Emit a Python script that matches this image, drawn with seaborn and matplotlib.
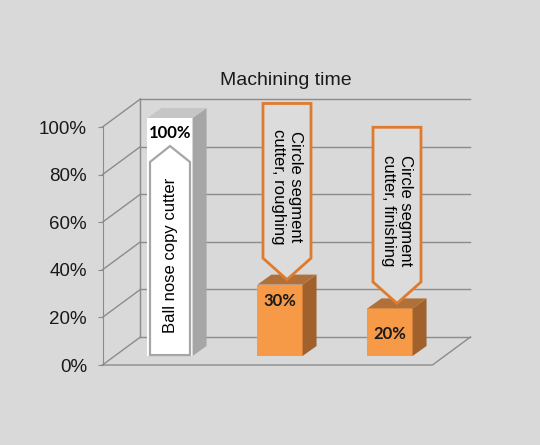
import matplotlib
matplotlib.use("Agg")
import matplotlib.pyplot as plt
import matplotlib.patches as mpatches
import seaborn as sns
import pandas as pd

# data
tools = ["Ball nose copy cutter", "Circle segment\ncutter, roughing", "Circle segment\ncutter, finishing"]
times = [100, 30, 20]
value_labels = ["100%", "30%", "20%"]
yticks = [0, 20, 40, 60, 80, 100]
title = "Machining time"

# colours
bg = "#d9d9d9"
grid_col = "#8c8c8c"
front_cols = ["#ffffff", "#f79a48", "#f79a48"]
top_cols = ["#c6c6c6", "#b0703a", "#b0703a"]
side_cols = ["#a6a6a6", "#a1612d", "#a1612d"]
arrow_edge = ["#a6a6a6", "#e07a2c", "#e07a2c"]

# fake 3d geometry (pixel offsets turned into data units)
PX_X = 110.0   # pixels per category
PX_Y = 2.38    # pixels per percent
BX, BY = 38 / PX_X, 28 / PX_Y      # back wall offset
FX, FY = 12 / PX_X, 9 / PX_Y       # bar front face offset
DX, DY = 14 / PX_X, 10 / PX_Y      # bar depth
XMIN, XMAX = -0.505, 2.495

plt.rcParams["font.family"] = ["Liberation Sans", "DejaVu Sans"]
fig = plt.figure(figsize=(5.4, 4.45), dpi=100, facecolor=bg)
ax = fig.add_axes([103 / 540, 80 / 445, 330 / 540, 238 / 445])
ax.set_facecolor("none")
ax.set_xlim(XMIN, XMAX)
ax.set_ylim(0, 100)

# walls and grid
for t in yticks:
    ax.plot([XMIN + BX, XMAX + BX], [t + BY, t + BY], color=grid_col, lw=1, zorder=1, clip_on=False)
    ax.plot([XMIN, XMIN + BX], [t, t + BY], color=grid_col, lw=1, zorder=1, clip_on=False)
ax.plot([XMIN + BX, XMIN + BX], [BY, 100 + BY], color=grid_col, lw=1, zorder=1, clip_on=False)
ax.plot([XMIN, XMAX, XMAX + BX], [0, 0, BY], color=grid_col, lw=1, zorder=1, clip_on=False)

df = pd.DataFrame({"tool": tools, "time": times})
sns.barplot(data=df, x="tool", y="time", hue="tool", palette=front_cols,
            width=0.41, legend=False, ax=ax, saturation=1, zorder=3)

for i, p in enumerate(ax.patches):
    p.set_x(p.get_x() + FX)
    p.set_y(FY)
    p.set_clip_on(False)
    p.set_edgecolor("none")
    xl = p.get_x()
    xr = xl + p.get_width()
    y0 = FY
    y1 = FY + p.get_height()
    side = mpatches.Polygon([(xr, y0), (xr + DX, y0 + DY), (xr + DX, y1 + DY), (xr, y1)],
                            closed=True, fc=side_cols[i], ec="none", zorder=3, clip_on=False)
    top = mpatches.Polygon([(xl, y1), (xr, y1), (xr + DX, y1 + DY), (xl + DX, y1 + DY)],
                           closed=True, fc=top_cols[i], ec="none", zorder=3, clip_on=False)
    ax.add_patch(side)
    ax.add_patch(top)

    cx = xl + p.get_width() / 2
    if i == 0:
        # up arrow inside the tall bar
        hw = 20 / PX_X
        pts = [(cx - hw, y0 + 0.4), (cx + hw, y0 + 0.4), (cx + hw, 85.3),
               (cx, 92), (cx - hw, 85.3)]
        ax.add_patch(mpatches.Polygon(pts, closed=True, fc="white", ec=arrow_edge[i],
                                      lw=1.6, zorder=4, clip_on=False))
        ax.text(cx, 46, tools[i], rotation=90, ha="center", va="center",
                fontsize=12, zorder=5)
        ax.text(cx, y1 - 6.3, value_labels[i], ha="center", va="center",
                fontsize=12, fontweight="bold", family=["Lato", "DejaVu Sans"], zorder=5)
    else:
        # down arrow callout pointing at the top face
        ax_c = cx + DX / 2
        hw = 24 / PX_X
        tip = y1 + DY / 2
        sh = tip + 9
        top_y = tip + 74
        pts = [(ax_c - hw, top_y), (ax_c + hw, top_y), (ax_c + hw, sh),
               (ax_c, tip), (ax_c - hw, sh)]
        ax.add_patch(mpatches.Polygon(pts, closed=True, fc="#dcdcdc", ec=arrow_edge[i],
                                      lw=2, zorder=4, clip_on=False))
        ax.text(ax_c, (top_y + sh) / 2 - 2.4, tools[i], rotation=270, ha="center",
                va="center", multialignment="center", fontsize=12,
                linespacing=1.1, zorder=5)
        drop = 6.9 if i == 1 else 10.8
        ax.text(cx, y1 - drop, value_labels[i], ha="center", va="center",
                fontsize=12, fontweight="bold", family=["Lato", "DejaVu Sans"],
                color="#1a1a1a", zorder=5)

# axes styling
for s in ["top", "right", "bottom"]:
    ax.spines[s].set_visible(False)
ax.spines["left"].set_color(grid_col)
ax.spines["left"].set_zorder(1)
ax.set_xticks([])
ax.set_yticks(yticks)
ax.set_yticklabels([f"{t}%" for t in yticks])
ax.tick_params(axis="y", length=3.6, color=grid_col, pad=7.9, labelsize=13.5,
               labelcolor="#1a1a1a")
ax.set_xlabel("")
ax.set_ylabel("")

fig.text(285.5 / 540, 1 - 80.5 / 445, title, ha="center", va="center",
         fontsize=14, color="#1a1a1a")

fig.savefig("out.png", dpi=100, facecolor=bg)
